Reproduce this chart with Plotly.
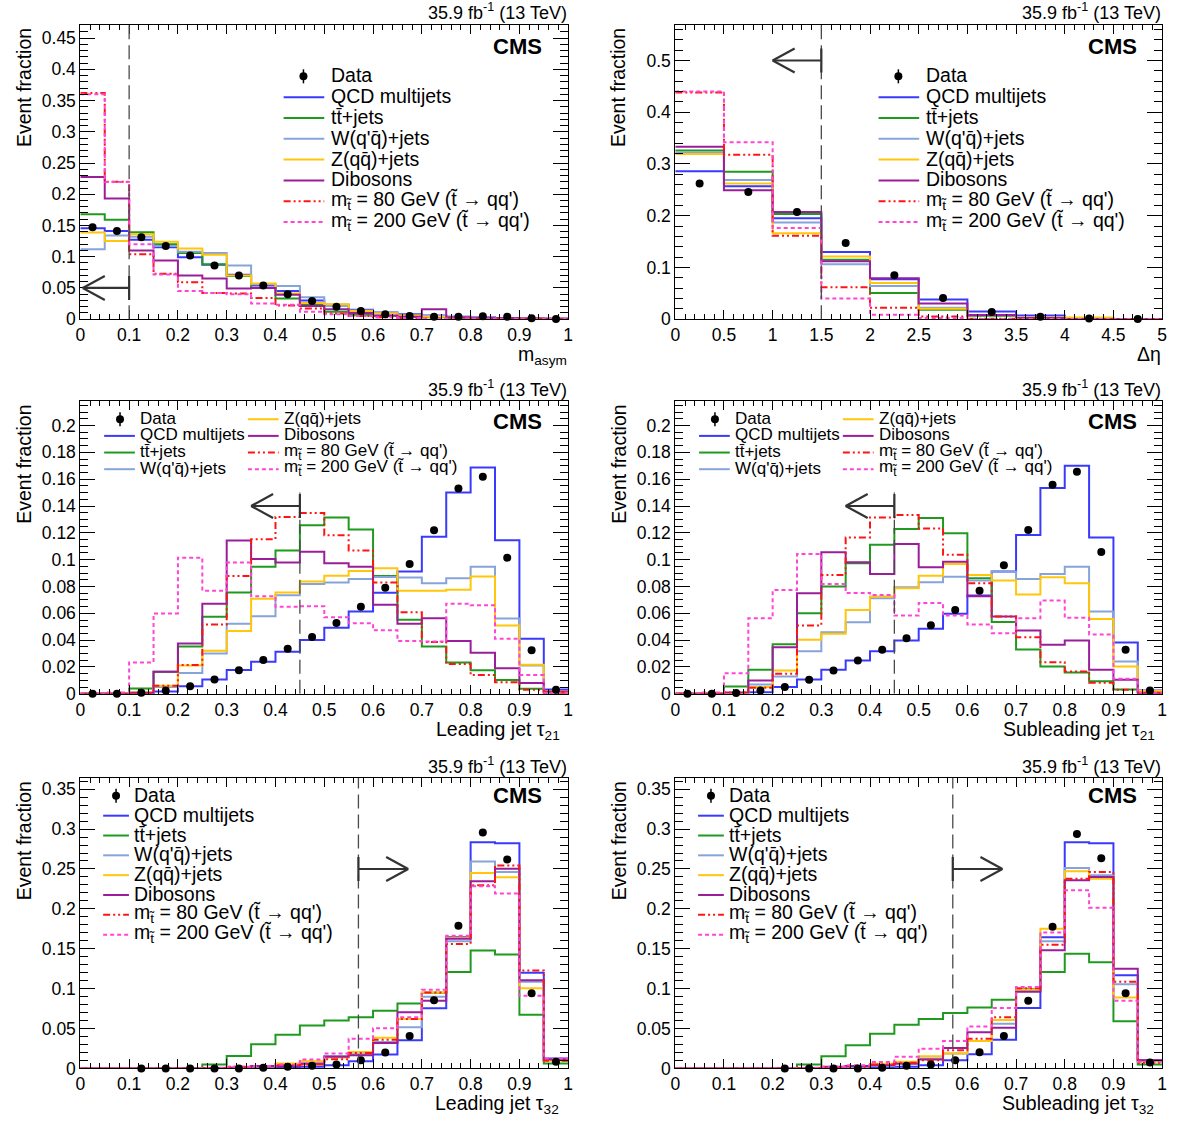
import plotly.graph_objects as go

FIG_W, FIG_H = 1181, 1126
FONT = "Liberation Sans, Arial, Helvetica, sans-serif"

# ===================== data =====================
tau_edges = [round(0.05 * i, 2) for i in range(21)]
masym_edges = [round(0.05 * i, 2) for i in range(21)]
deta_edges = [round(0.5 * i, 1) for i in range(11)]

# --- m_asym ---
masym_data = [0.147, 0.141, 0.131, 0.117, 0.102, 0.086, 0.070, 0.054, 0.040, 0.029,
              0.020, 0.013, 0.008, 0.005, 0.004, 0.004, 0.0048, 0.0037, 0.0016, 0.0002]
masym_qcd = [0.1455, 0.141, 0.127, 0.115, 0.099, 0.087, 0.071, 0.054, 0.045, 0.030,
             0.023, 0.015, 0.0106, 0.008, 0.006, 0.004, 0.003, 0.002, 0.001, 0.0005]
masym_tt = [0.168, 0.159, 0.139, 0.120, 0.106, 0.088, 0.069, 0.050, 0.033, 0.023,
            0.012, 0.007, 0.005, 0.004, 0.003, 0.002, 0.002, 0.001, 0.001, 0.0005]
masym_w = [0.112, 0.134, 0.132, 0.117, 0.108, 0.106, 0.086, 0.056, 0.053, 0.035,
           0.021, 0.014, 0.010, 0.006, 0.005, 0.004, 0.003, 0.002, 0.001, 0.0005]
masym_z = [0.1386, 0.125, 0.136, 0.124, 0.113, 0.103, 0.070, 0.057, 0.041, 0.026,
           0.024, 0.013, 0.009, 0.006, 0.004, 0.003, 0.002, 0.002, 0.001, 0.0005]
masym_vv = [0.2275, 0.193, 0.110, 0.094, 0.070, 0.065, 0.049, 0.050, 0.039, 0.021,
            0.016, 0.010, 0.006, 0.004, 0.016, 0.003, 0.002, 0.002, 0.001, 0.0005]
masym_m80 = [0.362, 0.220, 0.104, 0.0725, 0.059, 0.042, 0.041, 0.034, 0.022, 0.017,
             0.009, 0.005, 0.003, 0.002, 0.001, 0.001, 0.001, 0.0005, 0.0005, 0.0002]
masym_m200 = [0.360, 0.2196, 0.120, 0.0714, 0.045, 0.042, 0.040, 0.025, 0.023, 0.012,
              0.008, 0.005, 0.003, 0.002, 0.001, 0.001, 0.001, 0.0005, 0.0005, 0.0002]

# --- delta eta ---
deta_data = [0.262, 0.246, 0.207, 0.147, 0.085, 0.041, 0.014, 0.0045, 0.0013, 0.0003]
deta_qcd = [0.286, 0.257, 0.195, 0.130, 0.077, 0.038, 0.015, 0.007, 0.001, 0.0003]
deta_tt = [0.326, 0.285, 0.203, 0.115, 0.0506, 0.018, 0.0064, 0.002, 0.0005, 0.0002]
deta_w = [0.322, 0.269, 0.187, 0.106, 0.064, 0.022, 0.008, 0.003, 0.001, 0.0003]
deta_z = [0.319, 0.262, 0.166, 0.121, 0.070, 0.020, 0.008, 0.003, 0.003, 0.0003]
deta_vv = [0.333, 0.249, 0.207, 0.112, 0.079, 0.030, 0.008, 0.002, 0.0005, 0.0002]
deta_m80 = [0.438, 0.318, 0.161, 0.0615, 0.022, 0.005, 0.001, 0.0005, 0.0002, 0.0001]
deta_m200 = [0.440, 0.342, 0.176, 0.040, 0.0083, 0.002, 0.0005, 0.0002, 0.0001, 0.0001]

# --- leading jet tau21 ---
lt21_data = [0, 0, 0.0007, 0.0025, 0.0057, 0.0106, 0.0175, 0.0251, 0.0335, 0.0424,
             0.0527, 0.0648, 0.079, 0.0968, 0.1219, 0.153, 0.1618, 0.1015, 0.0325, 0.003]
lt21_qcd = [0, 0, 0.001, 0.0017, 0.0057, 0.0106, 0.0177, 0.0239, 0.0313, 0.0401,
            0.0493, 0.0613, 0.0754, 0.0911, 0.117, 0.150, 0.1687, 0.1145, 0.0411, 0.0032]
lt21_tt = [0, 0, 0.004, 0.0165, 0.0352, 0.0574, 0.0756, 0.0948, 0.1069, 0.1256,
           0.1315, 0.1224, 0.0879, 0.0552, 0.0352, 0.0234, 0.0175, 0.0103, 0.0037, 0.0007]
lt21_w = [0, 0, 0.0005, 0.005, 0.0155, 0.030, 0.0522, 0.0579, 0.0734, 0.0818,
          0.083, 0.0855, 0.087, 0.0867, 0.0825, 0.0862, 0.0948, 0.0562, 0.021, 0.0017]
lt21_z = [0, 0, 0.001, 0.006, 0.021, 0.032, 0.0468, 0.0709, 0.0756, 0.0837,
          0.088, 0.0916, 0.0936, 0.0768, 0.0768, 0.0776, 0.0874, 0.051, 0.0217, 0.002]
lt21_vv = [0, 0, 0.0005, 0.0165, 0.0374, 0.0672, 0.1143, 0.1005, 0.0978, 0.1059,
           0.0973, 0.0948, 0.0663, 0.0522, 0.0564, 0.0394, 0.0305, 0.019, 0.0081, 0.0017]
lt21_m80 = [0, 0, 0.0005, 0.006, 0.0214, 0.0517, 0.0879, 0.1153, 0.1318, 0.1347,
            0.1182, 0.1069, 0.083, 0.0608, 0.0387, 0.0222, 0.014, 0.0086, 0.003, 0.0007]
lt21_m200 = [0, 0.001, 0.0234, 0.0599, 0.1015, 0.0768, 0.0978, 0.0727, 0.0648, 0.0653,
             0.0571, 0.0525, 0.0473, 0.0394, 0.0389, 0.0672, 0.066, 0.0411, 0.014, 0.0007]

# --- subleading jet tau21 ---
st21_data = [0, 0, 0.0005, 0.0025, 0.005, 0.0104, 0.0174, 0.0248, 0.0328, 0.0414,
             0.0511, 0.0625, 0.0769, 0.0958, 0.1221, 0.1558, 0.1655, 0.1057, 0.0328, 0.0025]
st21_qcd = [0, 0, 0.0005, 0.0012, 0.005, 0.0107, 0.0179, 0.0248, 0.0318, 0.0397,
            0.0484, 0.0596, 0.0732, 0.0911, 0.1184, 0.1534, 0.170, 0.1166, 0.0382, 0.0025]
st21_tt = [0, 0, 0.0055, 0.0179, 0.037, 0.060, 0.0799, 0.0973, 0.1112, 0.1228,
           0.131, 0.1196, 0.0861, 0.0536, 0.033, 0.0203, 0.0159, 0.0094, 0.0032, 0.0005]
st21_w = [0, 0, 0.0005, 0.007, 0.0129, 0.0318, 0.0459, 0.0534, 0.0712, 0.0794,
          0.0831, 0.0873, 0.0844, 0.0911, 0.0856, 0.0893, 0.0948, 0.0613, 0.0241, 0.002]
st21_z = [0, 0, 0.0005, 0.005, 0.0174, 0.0402, 0.0447, 0.0625, 0.0725, 0.0787,
          0.088, 0.0968, 0.0886, 0.0844, 0.074, 0.0868, 0.0824, 0.0558, 0.0203, 0.002]
st21_vv = [0, 0, 0.001, 0.0099, 0.0347, 0.0749, 0.1055, 0.098, 0.0893, 0.1117,
           0.0943, 0.0985, 0.0727, 0.0576, 0.0471, 0.0365, 0.0397, 0.0179, 0.0104, 0.0007]
st21_m80 = [0, 0, 0.001, 0.0045, 0.015, 0.0509, 0.0886, 0.1166, 0.1315, 0.1333,
            0.1233, 0.1037, 0.0824, 0.0576, 0.0422, 0.0236, 0.0166, 0.0082, 0.003, 0.0005]
st21_m200 = [0, 0.001, 0.0154, 0.0563, 0.0774, 0.1042, 0.0819, 0.0752, 0.0737, 0.0583,
             0.0677, 0.0583, 0.0516, 0.0452, 0.0563, 0.0695, 0.0566, 0.0442, 0.0112, 0.0007]

# --- leading jet tau32 ---
lt32_data = [None, None, 0, 0, 0, 0, 0, 0.0008, 0.002, 0.0033,
             0.005, 0.0103, 0.0199, 0.0405, 0.0856, 0.1787, 0.2958, 0.2619, 0.0943, 0.0083]
lt32_qcd = [0, 0, 0, 0, 0, 0, 0, 0.0005, 0.0008, 0.002,
            0.004, 0.009, 0.0174, 0.0352, 0.0753, 0.1643, 0.2834, 0.2822, 0.120, 0.0124]
lt32_tt = [0, 0, 0, 0, 0, 0.005, 0.0157, 0.0302, 0.0422, 0.0538,
           0.060, 0.0641, 0.0724, 0.0815, 0.095, 0.1208, 0.1477, 0.1427, 0.0674, 0.0062]
lt32_w = [0, 0, 0, 0, 0, 0.0005, 0.001, 0.002, 0.004, 0.0083,
          0.0157, 0.0178, 0.0331, 0.0517, 0.0898, 0.1593, 0.2594, 0.2462, 0.1088, 0.0112]
lt32_z = [0, 0, 0, 0, 0, 0.0005, 0.001, 0.003, 0.0062, 0.009,
          0.0137, 0.0207, 0.0385, 0.0621, 0.0952, 0.1634, 0.2449, 0.2396, 0.1005, 0.0095]
lt32_vv = [0, 0, 0, 0, 0, 0.0005, 0.001, 0.003, 0.003, 0.006,
           0.0145, 0.0165, 0.0319, 0.0703, 0.0848, 0.1626, 0.2346, 0.2503, 0.1105, 0.0112]
lt32_m80 = [0, 0, 0, 0, 0, 0.0005, 0.002, 0.002, 0.004, 0.005,
            0.0116, 0.0194, 0.036, 0.062, 0.0952, 0.156, 0.2296, 0.2545, 0.1229, 0.0095]
lt32_m200 = [0, 0, 0, 0, 0, 0.001, 0.002, 0.003, 0.005, 0.0112,
             0.0186, 0.0372, 0.0505, 0.0641, 0.0985, 0.1663, 0.2284, 0.2193, 0.091, 0.0124]

# --- subleading jet tau32 ---
st32_data = [None, None, None, None, 0, 0, 0, 0, 0.0008, 0.0033,
             0.005, 0.0103, 0.0203, 0.0405, 0.0848, 0.1775, 0.2938, 0.2636, 0.0943, 0.0074]
st32_qcd = [0, 0, 0, 0, 0, 0, 0, 0.0003, 0.0008, 0.002,
            0.004, 0.0103, 0.0178, 0.036, 0.0757, 0.1643, 0.2834, 0.2822, 0.1167, 0.0103]
st32_tt = [0, 0, 0, 0, 0, 0.005, 0.0153, 0.029, 0.0434, 0.0546,
           0.0621, 0.0695, 0.0765, 0.0861, 0.0993, 0.1208, 0.1436, 0.1332, 0.0592, 0.005]
st32_w = [0, 0, 0, 0, 0, 0.0005, 0.001, 0.002, 0.003, 0.0074,
          0.0124, 0.0186, 0.0343, 0.0559, 0.0972, 0.1593, 0.2511, 0.242, 0.1055, 0.0095]
st32_z = [0, 0, 0, 0, 0, 0.0005, 0.001, 0.003, 0.006, 0.0083,
          0.0153, 0.0186, 0.0343, 0.0608, 0.0985, 0.175, 0.247, 0.2379, 0.089, 0.0083]
st32_vv = [0, 0, 0, 0, 0, 0.0005, 0.002, 0.003, 0.004, 0.006,
           0.0112, 0.0257, 0.0455, 0.0509, 0.096, 0.1481, 0.2358, 0.240, 0.1249, 0.0103]
st32_m80 = [0, 0, 0, 0, 0, 0.0005, 0.001, 0.002, 0.005, 0.007,
            0.0103, 0.0228, 0.0372, 0.0641, 0.1005, 0.1551, 0.2379, 0.2462, 0.1088, 0.007]
st32_m200 = [0, 0, 0, 0, 0, 0.001, 0.002, 0.004, 0.008, 0.0145,
             0.0248, 0.0343, 0.0525, 0.0757, 0.1022, 0.1705, 0.2234, 0.2015, 0.0848, 0.0083]

# selection cuts drawn on each panel
cut_x = [0.1, 1.5, 0.45, 0.45, 0.57, 0.57]
arrow_y = [0.05, 0.5, 0.14, 0.14, 0.25, 0.25]
arrow_tip = [0.005, 1.0, 0.35, 0.35, 0.672, 0.672]
cut_top = [None, None, 0.15, 0.15, None, None]

x_titles = ["m<sub>asym</sub>", "\u0394\u03b7", "Leading jet \u03c4<sub>21</sub>",
            "Subleading jet \u03c4<sub>21</sub>", "Leading jet \u03c4<sub>32</sub>",
            "Subleading jet \u03c4<sub>32</sub>"]

SERIES = ["qcd", "tt", "w", "z", "vv", "m80", "m200"]
LABELS = {
    "data": "Data",
    "qcd": "QCD multijets",
    "tt": "tt\u0304+jets",
    "w": "W(q'q\u0304)+jets",
    "z": "Z(qq\u0304)+jets",
    "vv": "Dibosons",
    "m80": "m<sub>t\u0303</sub> = 80 GeV (t\u0303 \u2192 qq')",
    "m200": "m<sub>t\u0303</sub> = 200 GeV (t\u0303 \u2192 qq')",
}
COLORS = {"qcd": "#3a3aff", "tt": "#1f9a1f", "w": "#86a4da", "z": "#ffc60a",
          "vv": "#9a1e9a", "m80": "#ff1414", "m200": "#ff44d6"}
DASHES = {"qcd": "solid", "tt": "solid", "w": "solid", "z": "solid", "vv": "solid",
          "m80": "7px,3px,2px,3px,2px,3px", "m200": "4px,3px"}

PANELS = [
    dict(edges=masym_edges, data=masym_data,
         h=dict(qcd=masym_qcd, tt=masym_tt, w=masym_w, z=masym_z, vv=masym_vv, m80=masym_m80, m200=masym_m200),
         xr=[0, 1], yr=[0, 0.4714], xd=0.1, xm=0.02, yd=0.05, ym=0.01, leg="top"),
    dict(edges=deta_edges, data=deta_data,
         h=dict(qcd=deta_qcd, tt=deta_tt, w=deta_w, z=deta_z, vv=deta_vv, m80=deta_m80, m200=deta_m200),
         xr=[0, 5], yr=[0, 0.569], xd=0.5, xm=0.1, yd=0.1, ym=0.02, leg="top"),
    dict(edges=tau_edges, data=lt21_data,
         h=dict(qcd=lt21_qcd, tt=lt21_tt, w=lt21_w, z=lt21_z, vv=lt21_vv, m80=lt21_m80, m200=lt21_m200),
         xr=[0, 1], yr=[0, 0.218], xd=0.1, xm=0.02, yd=0.02, ym=0.005, leg="mid"),
    dict(edges=tau_edges, data=st21_data,
         h=dict(qcd=st21_qcd, tt=st21_tt, w=st21_w, z=st21_z, vv=st21_vv, m80=st21_m80, m200=st21_m200),
         xr=[0, 1], yr=[0, 0.218], xd=0.1, xm=0.02, yd=0.02, ym=0.005, leg="mid"),
    dict(edges=tau_edges, data=lt32_data,
         h=dict(qcd=lt32_qcd, tt=lt32_tt, w=lt32_w, z=lt32_z, vv=lt32_vv, m80=lt32_m80, m200=lt32_m200),
         xr=[0, 1], yr=[0, 0.364], xd=0.1, xm=0.02, yd=0.05, ym=0.01, leg="bot"),
    dict(edges=tau_edges, data=st32_data,
         h=dict(qcd=st32_qcd, tt=st32_tt, w=st32_w, z=st32_z, vv=st32_vv, m80=st32_m80, m200=st32_m200),
         xr=[0, 1], yr=[0, 0.364], xd=0.1, xm=0.02, yd=0.05, ym=0.01, leg="bot"),
]

# ===================== layout geometry (pixels) =====================
COL_X = [(76, 568), (676, 1167)]
ROW_Y = [(25, 322), (405, 700), (785, 1078)]

LEGEND_STYLE = {
    "top": dict(size=19.5, y0=52, dy=21,
                cols=[dict(x0=205, x1=246, xt=251, xm=225, items=["data"] + SERIES)]),
    "mid": dict(size=17, y0=18, dy=16.8,
                cols=[dict(x0=24, x1=55, xt=58, xm=40, items=["data", "qcd", "tt", "w"]),
                      dict(x0=169, x1=200, xt=203, xm=185, items=["z", "vv", "m80", "m200"])]),
    "bot": dict(size=19.5, y0=18, dy=20,
                cols=[dict(x0=23, x1=49, xt=52, xm=36, items=["data"] + SERIES)]),
}


def px(x):
    return x / FIG_W


def py(y):
    return 1 - y / FIG_H


fig = go.Figure()
shapes = []
annotations = []
layout_axes = {}

for i, p in enumerate(PANELS):
    row, col = divmod(i, 2)
    left, right = COL_X[col]
    top, bottom = ROW_Y[row]
    ax = "" if i == 0 else str(i + 1)
    xa, ya = "x" + ax, "y" + ax

    edges = p["edges"]
    centers = [(edges[k] + edges[k + 1]) / 2 for k in range(len(edges) - 1)]
    for s in SERIES:
        vals = p["h"][s]
        fig.add_trace(go.Scatter(
            x=edges, y=list(vals) + [vals[-1]], mode="lines",
            line=dict(shape="hv", color=COLORS[s], width=2, dash=DASHES[s]),
            xaxis=xa, yaxis=ya, showlegend=False, hoverinfo="skip"))
    fig.add_trace(go.Scatter(
        x=centers, y=p["data"], mode="markers",
        marker=dict(color="black", size=8), cliponaxis=False,
        xaxis=xa, yaxis=ya, showlegend=False, hoverinfo="skip"))

    tickfont = dict(family=FONT, size=17.5, color="black")
    common = dict(ticks="inside", tickwidth=1, tickcolor="black", showline=True,
                  linecolor="black", linewidth=1, mirror="allticks", showgrid=False,
                  zeroline=False, tickfont=tickfont, fixedrange=True, tick0=0)
    layout_axes["xaxis" + ax] = dict(
        common, domain=[px(left), px(right)], range=p["xr"], dtick=p["xd"], ticklen=9,
        anchor=ya,
        minor=dict(ticks="inside", ticklen=5, dtick=p["xm"], tick0=0, tickcolor="black",
                   tickwidth=1, showgrid=False))
    layout_axes["yaxis" + ax] = dict(
        common, domain=[py(bottom), py(top)], range=p["yr"], dtick=p["yd"], ticklen=15,
        anchor=xa,
        minor=dict(ticks="inside", ticklen=8, dtick=p["ym"], tick0=0, tickcolor="black",
                   tickwidth=1, showgrid=False))

    # ---- cut line and arrow ----
    dash_line = dict(color="#4a4a4a", width=1.3, dash="14px,6px")
    if cut_top[i] is None:
        shapes.append(dict(type="line", xref=xa, yref=ya + " domain", x0=cut_x[i], x1=cut_x[i],
                           y0=0, y1=1, line=dash_line, layer="above"))
    else:
        shapes.append(dict(type="line", xref=xa, yref=ya, x0=cut_x[i], x1=cut_x[i],
                           y0=0, y1=cut_top[i], line=dash_line, layer="above"))
    arr = dict(color="#333333", width=2.2)
    shapes.append(dict(type="line", xref=xa, yref=ya, x0=cut_x[i], x1=arrow_tip[i],
                       y0=arrow_y[i], y1=arrow_y[i], line=arr))
    shapes.append(dict(type="line", xref=xa, yref=ya, x0=cut_x[i], x1=cut_x[i],
                       ysizemode="pixel", yanchor=arrow_y[i], y0=-12, y1=12, line=arr))
    sgn = 1 if arrow_tip[i] < cut_x[i] else -1
    for d in (-12, 12):
        shapes.append(dict(type="line", xref=xa, yref=ya,
                           xsizemode="pixel", xanchor=arrow_tip[i], x0=0, x1=sgn * 22,
                           ysizemode="pixel", yanchor=arrow_y[i], y0=0, y1=d, line=arr))

    # ---- texts ----
    annotations.append(dict(xref="paper", yref="paper", x=px(right + 1), y=py(top - 13),
                            xanchor="right", yanchor="middle", showarrow=False,
                            text="35.9 fb<sup>-1</sup> (13 TeV)",
                            font=dict(family=FONT, size=18, color="black")))
    cms_y = [22, 20, 18][row]
    annotations.append(dict(xref="paper", yref="paper", x=px(left + 468), y=py(top + cms_y),
                            xanchor="right", yanchor="middle", showarrow=False,
                            text="<b>CMS</b>", font=dict(family=FONT, size=22, color="black")))
    annotations.append(dict(xref="paper", yref="paper", x=px(left - 57), y=py(top + 1),
                            xanchor="center", yanchor="top", showarrow=False, textangle=-90,
                            text="Event fraction", font=dict(family=FONT, size=19.5, color="black")))
    xt_right = [493, 492, 486, 486, 485, 485][i]
    annotations.append(dict(xref="paper", yref="paper", x=px(left + xt_right), y=py(bottom + 22),
                            xanchor="right", yanchor="top", showarrow=False, text=x_titles[i],
                            font=dict(family=FONT, size=19.5, color="black")))

    # ---- legend ----
    st = LEGEND_STYLE[p["leg"]]
    for c in st["cols"]:
        for r, key in enumerate(c["items"]):
            yy = top + st["y0"] + r * st["dy"]
            if key == "data":
                xm = left + c["xm"]
                shapes.append(dict(type="line", xref="paper", yref="paper",
                                   x0=px(xm), x1=px(xm), ysizemode="pixel", yanchor=py(yy),
                                   y0=-7, y1=7, line=dict(color="black", width=1.5)))
                shapes.append(dict(type="circle", xref="paper", yref="paper",
                                   xsizemode="pixel", xanchor=px(xm), x0=-4, x1=4,
                                   ysizemode="pixel", yanchor=py(yy), y0=-4, y1=4,
                                   fillcolor="black", line=dict(color="black", width=0)))
            else:
                shapes.append(dict(type="line", xref="paper", yref="paper",
                                   x0=px(left + c["x0"]), x1=px(left + c["x1"]),
                                   y0=py(yy), y1=py(yy),
                                   line=dict(color=COLORS[key], width=2, dash=DASHES[key])))
            annotations.append(dict(xref="paper", yref="paper", x=px(left + c["xt"]),
                                    y=py(yy - 1), xanchor="left", yanchor="middle",
                                    showarrow=False, text=LABELS[key],
                                    font=dict(family=FONT, size=st["size"], color="black")))

fig.update_layout(
    width=FIG_W, height=FIG_H,
    margin=dict(l=0, r=0, t=0, b=0, pad=0),
    paper_bgcolor="white", plot_bgcolor="white",
    font=dict(family=FONT, color="black"),
    shapes=shapes, annotations=annotations,
    showlegend=False,
    **layout_axes,
)

fig.write_html("out.html", config={"displayModeBar": False},
               post_script="document.body.style.margin='0';document.body.style.overflow='hidden';")
